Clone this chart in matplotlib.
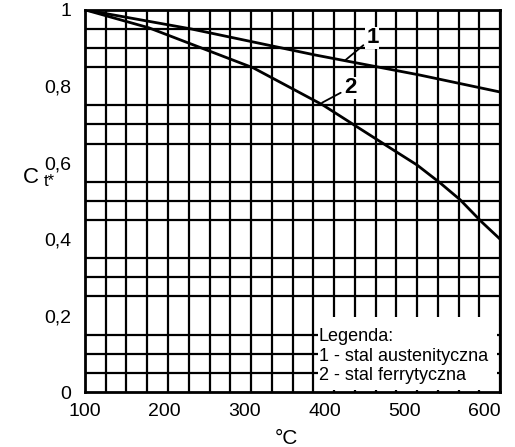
import numpy as np
import matplotlib
matplotlib.use('Agg')
import matplotlib.pyplot as plt
from matplotlib.patches import Rectangle

plt.rcParams['font.family'] = ['Liberation Sans', 'DejaVu Sans']

# curve 1 - stal austenityczna
t1 = [100, 233, 388, 518, 620]
c1 = [1.0, 0.95, 0.882, 0.83, 0.785]
# curve 2 - stal ferrytyczna
t2 = [100, 180, 311, 398, 482, 516, 545, 570, 597, 620]
c2 = [1.0, 0.953, 0.848, 0.751, 0.639, 0.594, 0.547, 0.503, 0.445, 0.40]

xticks = [100, 200, 300, 400, 500, 600]
yticks = [0, 0.2, 0.4, 0.6, 0.8, 1.0]
ylabels = ['0', '0,2', '0,4', '0,6', '0,8', '1']
legend_lines = ['Legenda:', '1 - stal austenityczna', '2 - stal ferrytyczna']

fig = plt.figure(figsize=(5.15, 4.47), dpi=100)
ax = fig.add_axes([0.165, 0.123, 0.806, 0.855])

ax.set_xlim(100, 620)
ax.set_ylim(0, 1)
ax.set_xticks(xticks)
ax.set_yticks(yticks)
ax.set_yticklabels(ylabels)
ax.set_xticks(np.linspace(100, 620, 21), minor=True)
ax.set_yticks(np.linspace(0, 1, 21), minor=True)
ax.tick_params(which='both', length=0, labelsize=14)
ax.tick_params(axis='x', pad=8)
ax.tick_params(axis='y', pad=10)
ax.set_axisbelow(True)
ax.grid(which='minor', color='k', linewidth=1.6)
for s in ax.spines.values():
    s.set_linewidth(2)

# legend box covering the grid
ax.add_patch(Rectangle((392, 0.004), 224, 0.192, facecolor='white', edgecolor='none', zorder=1))
for i, s in enumerate(legend_lines):
    ax.text(393, 0.145 - i * 0.051, s, fontsize=13, va='center', ha='left', zorder=4)

ax.plot(t1, c1, color='k', linewidth=2, zorder=3)
ax.plot(t2, c2, color='k', linewidth=2, zorder=3)

ax.annotate('1', xy=(426, 0.868), xytext=(460, 0.927), fontsize=16, fontweight='bold',
            ha='center', va='center', zorder=4,
            bbox=dict(facecolor='white', edgecolor='none', pad=0.5),
            arrowprops=dict(arrowstyle='-', color='k', lw=1.3, shrinkA=2, shrinkB=0))
ax.annotate('2', xy=(397, 0.757), xytext=(432, 0.796), fontsize=16, fontweight='bold',
            ha='center', va='center', zorder=4,
            bbox=dict(facecolor='white', edgecolor='none', pad=0.5),
            arrowprops=dict(arrowstyle='-', color='k', lw=1.3, shrinkA=2, shrinkB=0))

fig.text(0.045, 0.602, 'C', fontsize=16, ha='left', va='center')
fig.text(0.084, 0.595, 't*', fontsize=12, ha='left', va='center')
fig.text(0.557, 0.02, '°C', fontsize=15, ha='center', va='center')

plt.savefig('out.png', dpi=100)
